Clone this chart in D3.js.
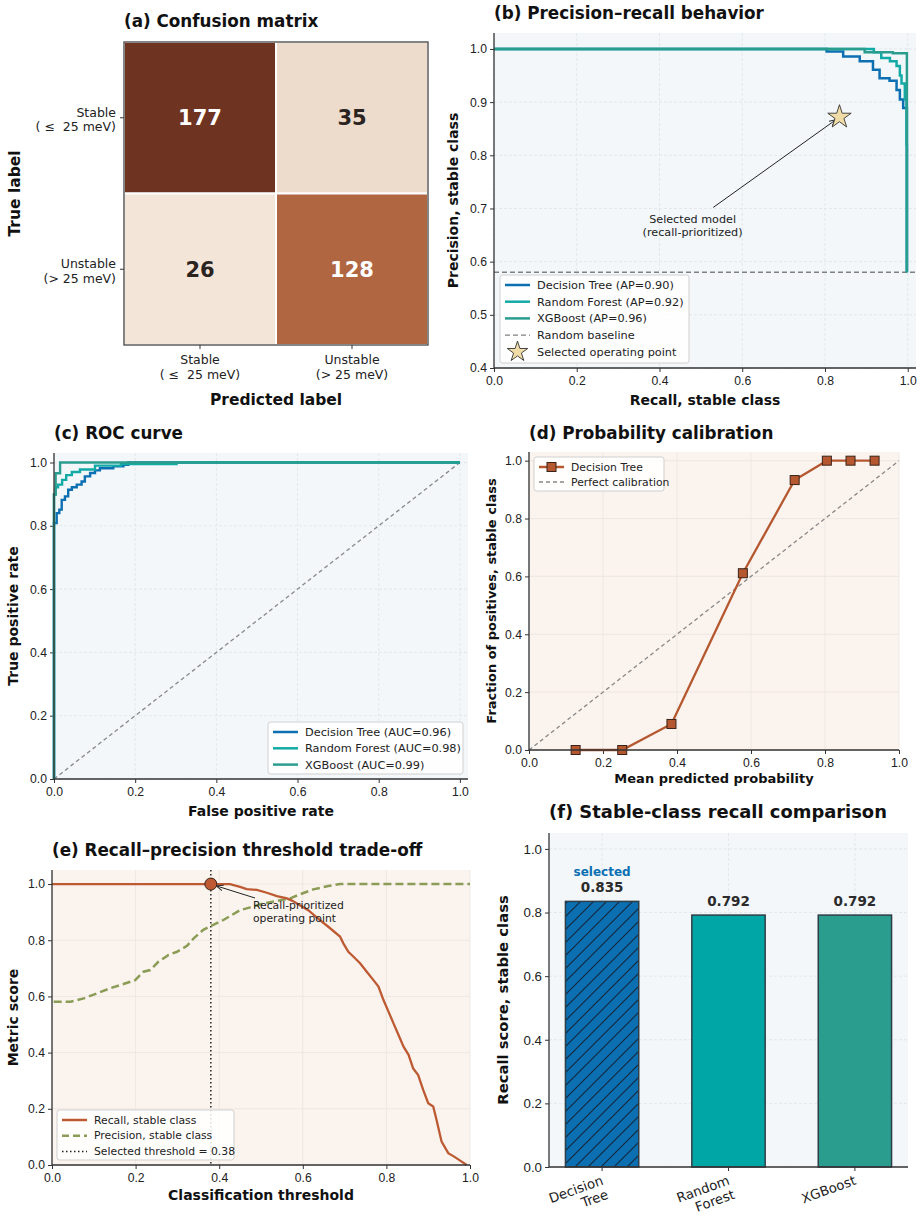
<!DOCTYPE html>
<html>
<head>
<meta charset="utf-8">
<script src="https://cdn.jsdelivr.net/npm/d3@7"></script>
<style>
  body { margin: 0; background: #fff; }
  svg { font-family: "DejaVu Sans", sans-serif; }
  .tick text { fill: #222; }
  .title { font-weight: bold; fill: #111; }
  .axlabel { font-weight: bold; fill: #111; }
  .pre { white-space: pre; }
</style>
</head>
<body>
<svg width="924" height="1222"></svg>
<script>
// ---- data ----
var cmRowLabels = [["Stable", "( ≤  25 meV)"], ["Unstable", "(> 25 meV)"]];
var cmValues = [[177, 35], [26, 128]];

var models = ["Decision Tree", "Random Forest", "XGBoost"];
var modelColors = ["#0b6fb2", "#13aaa6", "#2a9d8f"];
var apScores = [0.90, 0.92, 0.96];
var aucScores = [0.96, 0.98, 0.99];

var prDTRecall = [0, 0.804, 0.844, 0.884, 0.916, 0.932, 0.956, 0.973, 0.981, 0.989, 0.998];
var prDTPrecision = [1.0, 0.995, 0.986, 0.977, 0.961, 0.945, 0.94, 0.923, 0.905, 0.889, 0.58];
var prRFRecall = [0, 0.918, 0.936, 0.957, 0.973, 0.981, 0.985, 0.993, 0.997, 0.998];
var prRFPrecision = [1.0, 0.994, 0.983, 0.977, 0.968, 0.95, 0.935, 0.905, 0.82, 0.58];
var prXGBRecall = [0, 0.896, 0.964, 0.998];
var prXGBPrecision = [1.0, 0.994, 0.992, 0.58];
var randomBaseline = 0.58;
var selectedPoint = [0.835, 0.872];

var rocDTFpr = [0, 0, 0.0066, 0.0131, 0.019, 0.027, 0.035, 0.044, 0.056, 0.068, 0.076, 0.089, 0.101, 0.113, 0.146, 0.171, 0.183, 1.0];
var rocDTTpr = [0, 0.809, 0.840, 0.851, 0.882, 0.893, 0.914, 0.922, 0.930, 0.940, 0.956, 0.967, 0.975, 0.982, 0.988, 0.993, 1.0, 1.0];
var rocRFFpr = [0, 0, 0.004, 0.01, 0.02, 0.03, 0.044, 0.064, 0.101, 0.165, 0.302, 1.0];
var rocRFTpr = [0, 0.90, 0.922, 0.93, 0.945, 0.96, 0.97, 0.978, 0.99, 0.995, 1.0, 1.0];
var rocXGBFpr = [0, 0, 0.004, 0.015, 1.0];
var rocXGBTpr = [0, 0.898, 0.966, 1.0, 1.0];

var calibMeanPred = [0.126, 0.252, 0.385, 0.578, 0.718, 0.805, 0.869, 0.934];
var calibFracPos = [0.0, 0.0, 0.09, 0.611, 0.933, 1.0, 1.0, 1.0];

var recallThresh = [0, 0.426, 0.450, 0.466, 0.490, 0.514, 0.538, 0.562, 0.574, 0.613, 0.641, 0.661, 0.689, 0.697, 0.709, 0.725, 0.737, 0.753, 0.769, 0.781, 0.793, 0.805, 0.817, 0.829, 0.841, 0.853, 0.864, 0.876, 0.888, 0.900, 0.912, 0.920, 0.932, 0.948, 0.964, 0.980, 0.992];
var recallCurve = [1.0, 1.0, 0.990, 0.982, 0.979, 0.969, 0.957, 0.949, 0.941, 0.907, 0.872, 0.848, 0.813, 0.789, 0.759, 0.736, 0.718, 0.688, 0.658, 0.635, 0.587, 0.546, 0.504, 0.463, 0.421, 0.392, 0.344, 0.320, 0.267, 0.220, 0.208, 0.160, 0.083, 0.042, 0.028, 0.012, 0.0];
var precThresh = [0.004, 0.044, 0.076, 0.108, 0.139, 0.171, 0.199, 0.219, 0.235, 0.255, 0.279, 0.299, 0.323, 0.339, 0.362, 0.386, 0.410, 0.426, 0.450, 0.474, 0.506, 0.546, 0.570, 0.594, 0.625, 0.661, 0.689, 1.0];
var precCurve = [0.581, 0.581, 0.593, 0.611, 0.629, 0.644, 0.658, 0.688, 0.694, 0.724, 0.748, 0.759, 0.780, 0.807, 0.837, 0.855, 0.872, 0.886, 0.907, 0.917, 0.931, 0.942, 0.949, 0.964, 0.981, 0.993, 1.0, 1.0];
var selectedThreshold = 0.38;

var barModels = [["Decision", "Tree"], ["Random", "Forest"], ["XGBoost"]];
var recallScores = [0.835, 0.792, 0.792];
var barColors = ["#0b6fb2", "#00a6a6", "#2a9d8f"];

var svg = d3.select("svg");
var zip = function(a, b) { return a.map(function(v, i) { return [v, b[i]]; }); };

// hatch pattern for the selected bar
var defs = svg.append("defs");
var pat = defs.append("pattern").attr("id", "hatch").attr("patternUnits", "userSpaceOnUse")
  .attr("width", 13).attr("height", 13);
pat.append("rect").attr("width", 13).attr("height", 13).attr("fill", barColors[0]);
pat.append("path").attr("d", "M-3,16 L16,-3 M-3,3 L3,-3 M10,16 L16,10")
  .attr("stroke", "#13293d").attr("stroke-width", 1.2);

// generic panel with left/bottom spines
function panel(opt) {
  var x = d3.scaleLinear().domain(opt.xd).range([opt.l, opt.r]);
  var y = d3.scaleLinear().domain(opt.yd).range([opt.b, opt.t]);
  var g = svg.append("g");
  g.append("rect").attr("x", opt.l).attr("y", opt.t).attr("width", opt.r - opt.l)
    .attr("height", opt.b - opt.t).attr("fill", opt.bg);
  var grid = g.append("g").attr("stroke", opt.gridColor).attr("stroke-width", 0.8);
  if (opt.gridDash) grid.attr("stroke-dasharray", "3,2");
  (opt.xgrid || []).forEach(function(v) {
    grid.append("line").attr("x1", x(v)).attr("x2", x(v)).attr("y1", opt.t).attr("y2", opt.b);
  });
  opt.yticks.forEach(function(v) {
    grid.append("line").attr("x1", opt.l).attr("x2", opt.r).attr("y1", y(v)).attr("y2", y(v));
  });
  var fs = opt.fs || 12.2;
  if (opt.xticks) {
    g.append("g").attr("transform", "translate(0," + opt.b + ")")
      .call(d3.axisBottom(x).tickValues(opt.xticks).tickFormat(d3.format(".1f")).tickSize(4).tickSizeOuter(0))
      .call(function(s) { s.select(".domain").remove(); s.selectAll("line").attr("stroke", "#333"); s.selectAll("text").attr("font-size", fs).attr("dy", "0.85em"); });
  }
  g.append("g").attr("transform", "translate(" + opt.l + ",0)")
    .call(d3.axisLeft(y).tickValues(opt.yticks).tickFormat(d3.format(".1f")).tickSize(4).tickSizeOuter(0))
    .call(function(s) { s.select(".domain").remove(); s.selectAll("line").attr("stroke", "#333"); s.selectAll("text").attr("font-size", fs); });
  var body = g.append("g");
  // spines
  g.append("line").attr("x1", opt.l).attr("x2", opt.l).attr("y1", opt.t).attr("y2", opt.b).attr("stroke", "#333").attr("stroke-width", 1.3);
  g.append("line").attr("x1", opt.l).attr("x2", opt.r).attr("y1", opt.b).attr("y2", opt.b).attr("stroke", "#333").attr("stroke-width", 1.3);
  g.append("text").attr("class", "title").attr("x", opt.l).attr("y", opt.titleY)
    .attr("font-size", opt.titleFs || 16.8).text(opt.title);
  g.append("text").attr("class", "axlabel").attr("x", (opt.l + opt.r) / 2 + (opt.xlabDx || 0)).attr("y", opt.xlabY)
    .attr("text-anchor", "middle").attr("font-size", opt.labFs || 14).text(opt.xlab);
  g.append("text").attr("class", "axlabel").attr("transform", "translate(" + opt.ylabX + "," + ((opt.t + opt.b) / 2 + (opt.ylabDy || 0)) + ") rotate(-90)")
    .attr("text-anchor", "middle").attr("font-size", opt.labFs || 14).text(opt.ylab);
  return { x: x, y: y, g: body, top: g };
}

function legend(g, x0, y0, w, h, rows, fs, gap) {
  var lg = g.append("g");
  lg.append("rect").attr("x", x0).attr("y", y0).attr("width", w).attr("height", h).attr("rx", 2.5)
    .attr("fill", "#fff").attr("fill-opacity", 0.85).attr("stroke", "#d0d0d0");
  rows.forEach(function(r, i) {
    var cy = y0 + 10 + i * (gap || fs * 1.5);
    var sx = x0 + 5;
    if (r.type === "line") {
      var ln = lg.append("line").attr("x1", sx).attr("x2", sx + 25).attr("y1", cy).attr("y2", cy)
        .attr("stroke", r.color).attr("stroke-width", r.width || 2.5);
      if (r.dash) ln.attr("stroke-dasharray", r.dash);
      if (r.marker === "square") lg.append("rect").attr("x", sx + 12.5 - 4.5).attr("y", cy - 4.5).attr("width", 9).attr("height", 9)
        .attr("fill", r.color).attr("stroke", "#3a2218").attr("stroke-width", 1);
    } else if (r.type === "star") {
      lg.append("path").attr("d", d3.symbol(d3.symbolStar, 130)()).attr("transform", "translate(" + (sx + 12.5) + "," + cy + ")")
        .attr("fill", "#f0dca6").attr("stroke", "#333").attr("stroke-width", 0.9);
    }
    lg.append("text").attr("x", x0 + 37).attr("y", cy).attr("dy", "0.35em").attr("font-size", fs).attr("fill", "#222").text(r.label);
  });
}

// ---- (a) confusion matrix ----
(function() {
  var L = 124, R = 428, T = 42, B = 345;
  var xb = d3.scaleBand().domain([0, 1]).range([L, R]);
  var yb = d3.scaleBand().domain([0, 1]).range([T, B]);
  var col = d3.scaleLinear().domain([26, 128, 177]).range(["#f3e6d8", "#b06641", "#6e3421"]);
  var g = svg.append("g");
  var cells = [];
  cmValues.forEach(function(row, i) { row.forEach(function(v, j) { cells.push({ i: i, j: j, v: v }); }); });
  g.selectAll("rect.cell").data(cells).enter().append("rect").attr("class", "cell")
    .attr("x", function(d) { return xb(d.j); }).attr("y", function(d) { return yb(d.i); })
    .attr("width", xb.bandwidth()).attr("height", yb.bandwidth())
    .attr("fill", function(d) { return col(d.v); }).attr("stroke", "#fff").attr("stroke-width", 2);
  g.selectAll("text.val").data(cells).enter().append("text")
    .attr("x", function(d) { return xb(d.j) + xb.bandwidth() / 2; })
    .attr("y", function(d) { return yb(d.i) + yb.bandwidth() / 2; })
    .attr("dy", "0.36em").attr("text-anchor", "middle").attr("font-size", 21).attr("font-weight", "bold")
    .attr("fill", function(d) { return d.v > 100 ? "#fff" : "#2a2320"; }).text(function(d) { return d.v; });
  g.append("rect").attr("x", L).attr("y", T).attr("width", R - L).attr("height", B - T)
    .attr("fill", "none").attr("stroke", "#444").attr("stroke-width", 1.3);
  cmRowLabels.forEach(function(lab, i) {
    var cy = yb(i) + yb.bandwidth() / 2;
    g.append("line").attr("x1", L - 4).attr("x2", L).attr("y1", cy).attr("y2", cy).attr("stroke", "#333");
    var t = g.append("text").attr("class", "pre").attr("text-anchor", "end").attr("font-size", 12.5).attr("fill", "#222");
    t.append("tspan").attr("x", L - 8).attr("y", cy - 1).text(lab[0]);
    t.append("tspan").attr("x", L - 8).attr("y", cy + 13.5).text(lab[1]);
    var cx = xb(i) + xb.bandwidth() / 2;
    g.append("line").attr("x1", cx).attr("x2", cx).attr("y1", B).attr("y2", B + 4).attr("stroke", "#333");
    var t2 = g.append("text").attr("class", "pre").attr("text-anchor", "middle").attr("font-size", 12.5).attr("fill", "#222");
    t2.append("tspan").attr("x", cx).attr("y", B + 19).text(lab[0]);
    t2.append("tspan").attr("x", cx).attr("y", B + 34).text(lab[1]);
  });
  g.append("text").attr("class", "title").attr("x", L).attr("y", 27).attr("font-size", 16.8).text("(a) Confusion matrix");
  g.append("text").attr("class", "axlabel").attr("x", (L + R) / 2).attr("y", 405).attr("text-anchor", "middle").attr("font-size", 15.5).text("Predicted label");
  g.append("text").attr("class", "axlabel").attr("transform", "translate(20," + ((T + B) / 2) + ") rotate(-90)").attr("text-anchor", "middle").attr("font-size", 15.5).text("True label");
})();

var ticks01 = [0, 0.2, 0.4, 0.6, 0.8, 1.0];

// ---- (b) precision-recall ----
(function() {
  var p = panel({ l: 494, r: 916, t: 33, b: 368, xd: [0, 1.02], yd: [0.4, 1.03], bg: "#f3f7fa",
    gridColor: "#dde3e8", gridDash: true, xgrid: ticks01, xticks: ticks01, yticks: [0.4, 0.5, 0.6, 0.7, 0.8, 0.9, 1.0],
    title: "(b) Precision–recall behavior", titleY: 19, xlab: "Recall, stable class", xlabY: 405, ylab: "Precision, stable class", ylabX: 458 });
  p.g.append("line").attr("x1", p.x(0)).attr("x2", p.x(1.02)).attr("y1", p.y(randomBaseline)).attr("y2", p.y(randomBaseline))
    .attr("stroke", "#808080").attr("stroke-width", 1.4).attr("stroke-dasharray", "5,3");
  var line = d3.line().x(function(d) { return p.x(d[0]); }).y(function(d) { return p.y(d[1]); }).curve(d3.curveStepAfter);
  [[prDTRecall, prDTPrecision], [prRFRecall, prRFPrecision], [prXGBRecall, prXGBPrecision]].forEach(function(s, i) {
    p.g.append("path").datum(zip(s[0], s[1])).attr("d", line).attr("fill", "none")
      .attr("stroke", modelColors[i]).attr("stroke-width", 2.5);
  });
  // annotation
  var sx = p.x(selectedPoint[0]), sy = p.y(selectedPoint[1]);
  defs.append("marker").attr("id", "arr").attr("viewBox", "0 0 10 10").attr("refX", 9).attr("refY", 5)
    .attr("markerWidth", 7).attr("markerHeight", 7).attr("orient", "auto")
    .append("path").attr("d", "M0,1 L10,5 L0,9").attr("fill", "none").attr("stroke", "#222").attr("stroke-width", 1.3);
  p.g.append("line").attr("x1", p.x(0.53)).attr("y1", p.y(0.702)).attr("x2", sx - 4).attr("y2", sy + 3)
    .attr("stroke", "#222").attr("stroke-width", 1).attr("marker-end", "url(#arr)");
  var at = p.g.append("text").attr("text-anchor", "middle").attr("font-size", 11.2).attr("fill", "#222");
  at.append("tspan").attr("x", p.x(0.48)).attr("y", p.y(0.672)).text("Selected model");
  at.append("tspan").attr("x", p.x(0.48)).attr("y", p.y(0.672) + 13).text("(recall-prioritized)");
  p.g.append("path").attr("d", d3.symbol(d3.symbolStar, 170)()).attr("transform", "translate(" + sx + "," + sy + ")")
    .attr("fill", "#f0dca6").attr("stroke", "#333").attr("stroke-width", 0.9);
  legend(p.top, 500, 275, 189, 88, [
    { type: "line", color: modelColors[0], label: models[0] + " (AP=" + apScores[0].toFixed(2) + ")" },
    { type: "line", color: modelColors[1], label: models[1] + " (AP=" + apScores[1].toFixed(2) + ")" },
    { type: "line", color: modelColors[2], label: models[2] + " (AP=" + apScores[2].toFixed(2) + ")" },
    { type: "line", color: "#808080", width: 1.4, dash: "5,3", label: "Random baseline" },
    { type: "star", label: "Selected operating point" }], 11.3, 16.7);
})();

// ---- (c) ROC ----
(function() {
  var p = panel({ l: 54, r: 468, t: 453, b: 779, xd: [0, 1.02], yd: [0, 1.03], bg: "#f3f7fa",
    gridColor: "#dde3e8", gridDash: true, xgrid: ticks01, xticks: ticks01, yticks: ticks01,
    title: "(c) ROC curve", titleY: 439, xlab: "False positive rate", xlabY: 816, ylab: "True positive rate", ylabX: 18 });
  p.g.append("line").attr("x1", p.x(0)).attr("y1", p.y(0)).attr("x2", p.x(1)).attr("y2", p.y(1))
    .attr("stroke", "#888").attr("stroke-width", 1.3).attr("stroke-dasharray", "4,3");
  var line = d3.line().x(function(d) { return p.x(d[0]); }).y(function(d) { return p.y(d[1]); }).curve(d3.curveStepAfter);
  [[rocDTFpr, rocDTTpr], [rocRFFpr, rocRFTpr], [rocXGBFpr, rocXGBTpr]].forEach(function(s, i) {
    p.g.append("path").datum(zip(s[0], s[1])).attr("d", line).attr("fill", "none")
      .attr("stroke", modelColors[i]).attr("stroke-width", 2.4);
  });
  legend(p.top, 268, 722, 195, 52, [
    { type: "line", color: modelColors[0], label: models[0] + " (AUC=" + aucScores[0].toFixed(2) + ")" },
    { type: "line", color: modelColors[1], label: models[1] + " (AUC=" + aucScores[1].toFixed(2) + ")" },
    { type: "line", color: modelColors[2], label: models[2] + " (AUC=" + aucScores[2].toFixed(2) + ")" }], 11.3, 16.3);
})();

// ---- (d) calibration ----
(function() {
  var p = panel({ l: 529, r: 899, t: 452, b: 750, xd: [0, 1], yd: [0, 1.03], bg: "#fbf3ee",
    gridColor: "#ebe3de", xgrid: ticks01, xticks: ticks01, yticks: ticks01,
    title: "(d) Probability calibration", titleY: 439, xlab: "Mean predicted probability", xlabY: 783, ylab: "Fraction of positives, stable class", ylabX: 496, labFs: 13 });
  p.g.append("line").attr("x1", p.x(0)).attr("y1", p.y(0)).attr("x2", p.x(1)).attr("y2", p.y(1))
    .attr("stroke", "#888").attr("stroke-width", 1.3).attr("stroke-dasharray", "4,3");
  var pts = zip(calibMeanPred, calibFracPos);
  p.g.append("path").datum(pts).attr("d", d3.line().x(function(d) { return p.x(d[0]); }).y(function(d) { return p.y(d[1]); }))
    .attr("fill", "none").attr("stroke", "#b5582f").attr("stroke-width", 2.3);
  p.g.selectAll("rect.m").data(pts).enter().append("rect")
    .attr("x", function(d) { return p.x(d[0]) - 4.5; }).attr("y", function(d) { return p.y(d[1]) - 4.5; })
    .attr("width", 9).attr("height", 9).attr("fill", "#b5582f").attr("stroke", "#3a2218").attr("stroke-width", 1);
  legend(p.top, 534, 457, 130, 34, [
    { type: "line", color: "#b5582f", marker: "square", label: "Decision Tree" },
    { type: "line", color: "#888", width: 1.3, dash: "4,3", label: "Perfect calibration" }], 10.8, 15);
})();

// ---- (e) threshold trade-off ----
(function() {
  var p = panel({ l: 52, r: 470, t: 870, b: 1165, xd: [0, 1], yd: [0, 1.05], bg: "#fbf4ee",
    gridColor: "#ebe3de", xgrid: ticks01, xticks: ticks01, yticks: ticks01,
    title: "(e) Recall–precision threshold trade-off", titleY: 856, xlab: "Classification threshold", xlabY: 1200, ylab: "Metric score", ylabX: 18 });
  var line = d3.line().x(function(d) { return p.x(d[0]); }).y(function(d) { return p.y(d[1]); });
  p.g.append("line").attr("x1", p.x(selectedThreshold)).attr("x2", p.x(selectedThreshold)).attr("y1", p.y(1.05)).attr("y2", p.y(0))
    .attr("stroke", "#222").attr("stroke-width", 1.5).attr("stroke-dasharray", "1.5,2.5");
  p.g.append("path").datum(zip(precThresh, precCurve)).attr("d", line).attr("fill", "none")
    .attr("stroke", "#8a9c56").attr("stroke-width", 2.5).attr("stroke-dasharray", "8,4");
  p.g.append("path").datum(zip(recallThresh, recallCurve)).attr("d", line).attr("fill", "none")
    .attr("stroke", "#bd5a33").attr("stroke-width", 2.3);
  var cx = p.x(selectedThreshold), cy = p.y(1.0);
  defs.append("marker").attr("id", "arr2").attr("viewBox", "0 0 10 10").attr("refX", 9).attr("refY", 5)
    .attr("markerWidth", 7).attr("markerHeight", 7).attr("orient", "auto")
    .append("path").attr("d", "M0,1 L10,5 L0,9").attr("fill", "none").attr("stroke", "#222").attr("stroke-width", 1.3);
  p.g.append("line").attr("x1", 255).attr("y1", 898).attr("x2", cx + 6).attr("y2", cy + 2)
    .attr("stroke", "#222").attr("stroke-width", 1).attr("marker-end", "url(#arr2)");
  p.g.append("circle").attr("cx", cx).attr("cy", cy).attr("r", 6).attr("fill", "#bd5a33").attr("stroke", "#3a2218").attr("stroke-width", 1);
  var at = p.g.append("text").attr("font-size", 10.8).attr("fill", "#222");
  at.append("tspan").attr("x", 253).attr("y", 909).text("Recall-prioritized");
  at.append("tspan").attr("x", 253).attr("y", 922).text("operating point");
  legend(p.top, 57, 1110, 177, 50, [
    { type: "line", color: "#bd5a33", label: "Recall, stable class" },
    { type: "line", color: "#8a9c56", dash: "7,4", label: "Precision, stable class" },
    { type: "line", color: "#222", width: 1.5, dash: "1.5,2.5", label: "Selected threshold = " + selectedThreshold.toFixed(2) }], 10.8, 15.7);
})();

// ---- (f) recall comparison ----
(function() {
  var p = panel({ l: 549, r: 908, t: 833, b: 1167, xd: [-0.42, 2.42], yd: [0, 1.05], bg: "#f3f7fa",
    gridColor: "#dde3e8", gridDash: true, xgrid: [0, 1, 2], yticks: ticks01, fs: 13.3,
    title: "(f) Stable-class recall comparison", titleY: 818, titleFs: 17.9, xlab: "", xlabY: 0,
    ylab: "Recall score, stable class", ylabX: 508, labFs: 14.8 });
  var bw = 0.58;
  var bars = recallScores.map(function(v, i) { return { i: i, v: v }; });
  p.g.selectAll("rect.bar").data(bars).enter().append("rect")
    .attr("x", function(d) { return p.x(d.i - bw / 2); }).attr("width", p.x(bw) - p.x(0))
    .attr("y", function(d) { return p.y(d.v); }).attr("height", function(d) { return p.y(0) - p.y(d.v); })
    .attr("fill", function(d) { return d.i === 0 ? "url(#hatch)" : barColors[d.i]; })
    .attr("stroke", "#2f3e46").attr("stroke-width", 1.5);
  p.g.selectAll("text.v").data(bars).enter().append("text")
    .attr("x", function(d) { return p.x(d.i); }).attr("y", function(d) { return p.y(d.v) - 9; })
    .attr("text-anchor", "middle").attr("font-size", 13.5).attr("font-weight", "bold").attr("fill", "#2b2b2b")
    .text(function(d) { return d.v.toFixed(3); });
  p.g.append("text").attr("x", p.x(0)).attr("y", p.y(recallScores[0]) - 25).attr("text-anchor", "middle")
    .attr("font-size", 12).attr("font-weight", "bold").attr("fill", "#0b6fb2").text("selected");
  barModels.forEach(function(lab, i) {
    var tx = p.x(i);
    p.top.append("line").attr("x1", tx).attr("x2", tx).attr("y1", 1167).attr("y2", 1171).attr("stroke", "#333");
    var t = p.top.append("text").attr("text-anchor", "end").attr("font-size", 13.3).attr("fill", "#222")
      .attr("transform", "translate(" + (tx + 2) + ",1184) rotate(-20)");
    lab.forEach(function(s, k) { t.append("tspan").attr("x", 0).attr("y", k * 15).text(s); });
  });
})();
</script>
</body>
</html>
